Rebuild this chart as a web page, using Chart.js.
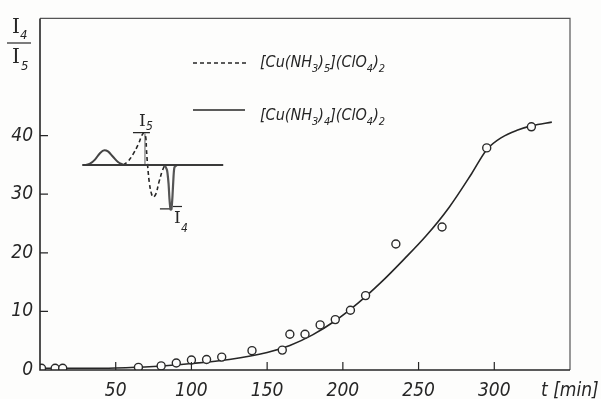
<!DOCTYPE html>
<html><head><meta charset="utf-8">
<script src="https://cdn.jsdelivr.net/npm/chart.js@4.4.1/dist/chart.umd.min.js"></script>
<style>html,body{margin:0;padding:0;background:#fdfdfc}#wrap{width:601px;height:399px}</style>
</head><body><div id="wrap"><canvas id="c" width="601" height="399"></canvas></div>
<script>
// ---- data ----
const xTickValues = [50, 100, 150, 200, 250, 300];
const yTickValues = [10, 20, 30, 40];
const yLabelMax = 40;
const xAxisTitle = 't [min]';
const legendLabels = [
  [['[Cu(NH',0],['3',1],[')',0],['5',1],['](ClO',0],['4',1],[')',0],['2',1]],
  [['[Cu(NH',0],['3',1],[')',0],['4',1],['](ClO',0],['4',1],[')',0],['2',1]]
];
// measured points (t [min], I4/I5)
const measuredT     = [1, 10, 15, 65, 80, 90, 100, 110, 120, 140, 160, 165, 175, 185, 195, 205, 215, 235, 265.5, 295, 324.5];
const measuredRatio = [0.3, 0.3, 0.3, 0.45, 0.7, 1.2, 1.7, 1.8, 2.2, 3.3, 3.4, 6.1, 6.1, 7.7, 8.6, 10.2, 12.7, 21.5, 24.4, 37.9, 41.5];
// fitted curve
const fitT     = [0, 25, 50, 75, 100, 125, 150, 165, 180, 195, 210, 225, 240, 255, 270, 285, 295, 305, 315, 325, 338];
const fitRatio = [0.3, 0.3, 0.35, 0.6, 1.1, 1.8, 3.0, 4.2, 6.0, 8.4, 11.4, 14.9, 18.8, 22.9, 27.7, 33.5, 37.6, 39.7, 40.9, 41.7, 42.3];
// inset spectrum sketch (drawn in the main axes' units)
const insetBaseX = [27.9, 121.0];
const insetBaseY = [35.0, 35.0];
const insetBumpX = [29.7, 33.0, 36.3, 39.6, 42.5, 44.9, 48.2, 51.5, 55.0];
const insetBumpY = [35.0, 35.2, 35.9, 37.0, 37.5, 37.3, 36.4, 35.5, 35.0];
const insetDashX = [55.0, 58.1, 61.4, 64.7, 68.2, 69.7, 70.3, 71.1, 72.3, 73.6, 74.8, 76.6, 78.6, 80.8, 82.1];
const insetDashY = [35.0, 35.6, 36.8, 38.4, 40.4, 39.9, 37.6, 34.8, 31.8, 30.1, 29.5, 30.1, 32.1, 34.0, 34.8];
const insetPeakX = [69.3, 69.3];
const insetPeakY = [35.0, 40.4];
const insetI5MarkX = [61.4, 72.6];
const insetI5MarkY = [40.5, 40.5];
const insetSpikeX = [82.5, 83.9, 84.9, 85.5, 86.2, 86.8, 87.5, 88.2, 88.8, 90.5];
const insetSpikeY = [34.9, 34.1, 31.8, 29.2, 27.4, 27.4, 29.7, 33.1, 34.6, 35.0];
const insetI4MarkX = [79.2, 87.0];
const insetI4MarkY = [27.5, 27.5];

const pts = (xs, ys) => xs.map((x, i) => ({x, y: ys[i]}));
const INK = '#262626';
const TICKFONT = 'italic 19px "DejaVu Sans Condensed", "DejaVu Sans", sans-serif';

function lineDs(xs, ys, extra) {
  return Object.assign({data: pts(xs, ys), showLine: true, pointRadius: 0, borderColor: INK,
    borderWidth: 1.8, fill: false, tension: 0, order: 2}, extra || {});
}

function drawRich(ctx, x, y, parts, size, subSize, subDy) {
  for (const [t, sub] of parts) {
    ctx.font = 'italic ' + (sub ? subSize : size) + 'px "DejaVu Sans Condensed", "DejaVu Sans", sans-serif';
    ctx.fillText(t, x, sub ? y + subDy : y);
    x += ctx.measureText(t).width;
  }
}

const decor = {
  id: 'decor',
  beforeDraw(chart) {
    const ctx = chart.ctx;
    ctx.save(); ctx.fillStyle = '#fdfdfc'; ctx.fillRect(0, 0, chart.width, chart.height); ctx.restore();
  },
  afterDraw(chart) {
    const ctx = chart.ctx, a = chart.chartArea, xs = chart.scales.x, ys = chart.scales.y;
    ctx.save();
    // frame
    ctx.strokeStyle = '#555'; ctx.lineWidth = 1.2;
    ctx.beginPath(); ctx.moveTo(a.left, a.top); ctx.lineTo(a.right, a.top); ctx.lineTo(a.right, a.bottom); ctx.stroke();
    ctx.strokeStyle = INK; ctx.lineWidth = 1.6;
    ctx.beginPath(); ctx.moveTo(a.left, a.top); ctx.lineTo(a.left, a.bottom); ctx.lineTo(a.right, a.bottom); ctx.stroke();
    // inner ticks
    ctx.lineWidth = 1.2;
    ctx.beginPath();
    for (const v of xTickValues) { const p = xs.getPixelForValue(v); ctx.moveTo(p, a.bottom); ctx.lineTo(p, a.bottom - 8); }
    for (const v of yTickValues) { const p = ys.getPixelForValue(v); ctx.moveTo(a.left, p); ctx.lineTo(a.left + 8, p); }
    ctx.stroke();
    // x axis title
    ctx.fillStyle = INK; ctx.font = TICKFONT; ctx.textAlign = 'left'; ctx.textBaseline = 'alphabetic';
    ctx.fillText(xAxisTitle, 541, 396);
    // y axis title I4 / I5
    ctx.font = '20px "DejaVu Serif", serif';
    ctx.fillText('I', 12, 33);
    ctx.fillText('I', 12, 63);
    ctx.font = 'italic 13px "DejaVu Sans Condensed", sans-serif';
    ctx.fillText('4', 20, 39);
    ctx.fillText('5', 21, 70);
    ctx.lineWidth = 1.2; ctx.beginPath(); ctx.moveTo(7, 43); ctx.lineTo(31, 43); ctx.stroke();
    // legend
    ctx.lineWidth = 1.4;
    ctx.setLineDash([4, 3]);
    ctx.beginPath(); ctx.moveTo(193, 63); ctx.lineTo(246, 63); ctx.stroke();
    ctx.setLineDash([]);
    ctx.beginPath(); ctx.moveTo(193, 110); ctx.lineTo(245, 110); ctx.stroke();
    drawRich(ctx, 260, 67, legendLabels[0], 16, 11, 5);
    drawRich(ctx, 260, 120, legendLabels[1], 16, 11, 5);
    // inset labels
    ctx.font = '17px "DejaVu Serif", serif';
    ctx.fillText('I', 139, 126);
    ctx.fillText('I', 174, 223);
    ctx.font = 'italic 12px "DejaVu Sans Condensed", sans-serif';
    ctx.fillText('5', 146, 130);
    ctx.fillText('4', 181, 232);
    ctx.lineWidth = 1.2; ctx.beginPath(); ctx.moveTo(173, 206.5); ctx.lineTo(182, 206.5); ctx.stroke();
    ctx.restore();
  }
};

new Chart(document.getElementById('c'), {
  type: 'scatter',
  data: {
    datasets: [
      {data: pts(measuredT, measuredRatio), pointRadius: 4, pointHoverRadius: 4, pointBorderWidth: 1.4,
       pointBorderColor: '#2a2a2a', pointBackgroundColor: '#fdfdfc', showLine: false, order: 0},
      lineDs(fitT, fitRatio, {cubicInterpolationMode: 'monotone', borderWidth: 1.6, order: 1}),
      lineDs(insetBaseX, insetBaseY, {borderWidth: 2, borderColor: '#3a3a3a'}),
      lineDs(insetBumpX, insetBumpY, {cubicInterpolationMode: 'monotone', borderWidth: 2, borderColor: '#444'}),
      lineDs(insetDashX, insetDashY, {tension: 0.4, borderWidth: 1.6, borderDash: [4, 3]}),
      lineDs(insetPeakX, insetPeakY, {borderWidth: 1.4, borderColor: '#8a8a8a'}),
      lineDs(insetI5MarkX, insetI5MarkY, {borderWidth: 1.2}),
      lineDs(insetSpikeX, insetSpikeY, {tension: 0.2, borderWidth: 2.2, borderColor: '#555'}),
      lineDs(insetI4MarkX, insetI4MarkY, {borderWidth: 1.2})
    ]
  },
  options: {
    responsive: false, devicePixelRatio: 1, animation: false,
    layout: {padding: {top: 11, right: 31, left: 0, bottom: 0}},
    plugins: {legend: {display: false}, tooltip: {enabled: false}},
    scales: {
      x: {type: 'linear', min: 0, max: 350,
          afterFit: s => { s.height = 29; },
          grid: {display: false, drawTicks: false}, border: {display: false},
          ticks: {stepSize: 50, autoSkip: false, maxRotation: 0, padding: 10, color: INK, font: {family: '"DejaVu Sans Condensed", "DejaVu Sans", sans-serif', size: 19, style: 'italic'},
                  callback: v => xTickValues.includes(v) ? String(v) : ''}},
      y: {type: 'linear', min: 0, max: 60,
          afterFit: s => { s.width = 40; },
          grid: {display: false, drawTicks: false}, border: {display: false},
          ticks: {stepSize: 10, padding: 7, color: INK, font: {family: '"DejaVu Sans Condensed", "DejaVu Sans", sans-serif', size: 19, style: 'italic'},
                  callback: v => v <= yLabelMax ? String(v) : ''}}
    }
  },
  plugins: [decor]
});
</script></body></html>
